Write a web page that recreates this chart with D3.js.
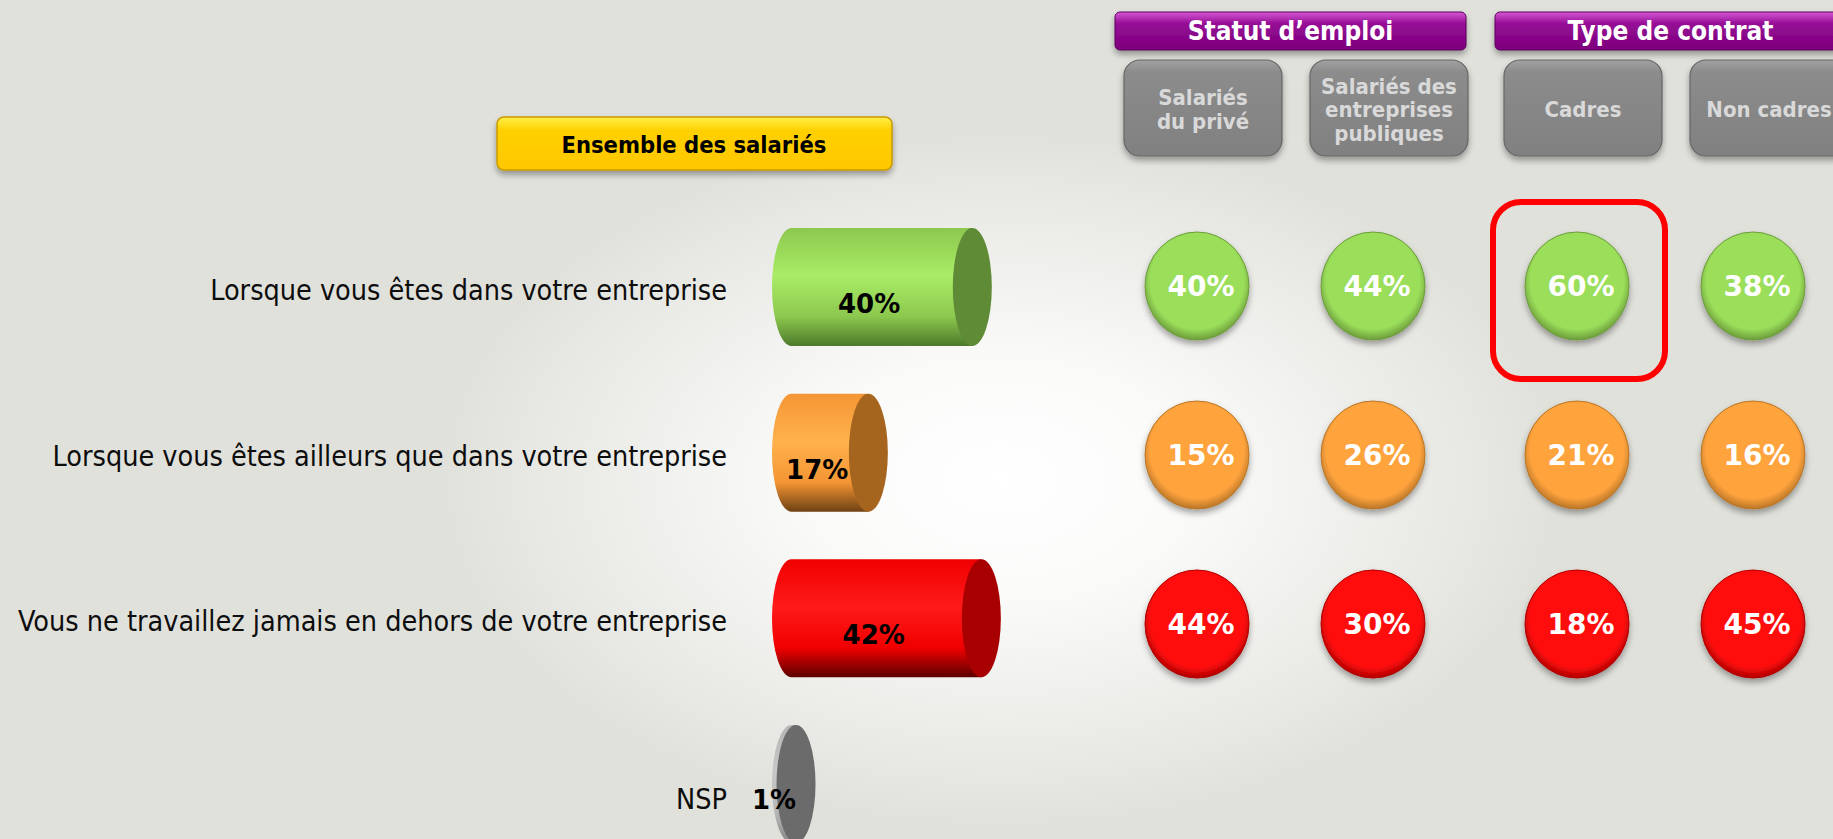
<!DOCTYPE html>
<html>
<head>
<meta charset="utf-8">
<script src="https://cdn.jsdelivr.net/npm/d3@7"></script>
<style>
  html, body { margin: 0; padding: 0; background: #e1e1dc; overflow: hidden; }
  svg { display: block; }
</style>
</head>
<body>
<div id="chart"></div>
<script>
// rows of the question
const rows = [
  "Lorsque vous êtes dans votre entreprise",
  "Lorsque vous êtes ailleurs que dans votre entreprise",
  "Vous ne travaillez jamais en dehors de votre entreprise",
  "NSP"
]
const ensemble = [40, 17, 42, 1]

// breakdown columns
const groups = ["Statut d’emploi", "Type de contrat"]
const columns = [
  ["Salariés", "du privé"],
  ["Salariés des", "entreprises", "publiques"],
  ["Cadres"],
  ["Non cadres"]
]
const columnGroup = [0, 0, 1, 1]
const prive = [40, 15, 44]
const publiques = [44, 26, 30]
const cadres = [60, 21, 18]
const nonCadres = [38, 16, 45]
const highlight = { col: 2, row: 0 }

const width = 1833, height = 839
const font = "'DejaVu Sans Condensed', 'DejaVu Sans', sans-serif"
const numFont = "'DejaVu Sans', sans-serif"
const palette = [
  { light: "#a9ec66", base: "#8cc84e", dark: "#4d7a2b", cap: "#5f8a36", rim: "#6d9c3c", ball: "#9ade5a" },
  { light: "#ffb24c", base: "#f49534", dark: "#6e4112", cap: "#a5651f", rim: "#b97628", ball: "#ffa33d" },
  { light: "#ff1a1a", base: "#f00000", dark: "#5c0000", cap: "#a80000", rim: "#b00000", ball: "#ff0d0d" },
  { light: "#c8c8c8", base: "#b5b5b5", dark: "#888888", cap: "#6b6b6b", rim: "#555555", ball: "#888888" }
]

const svg = d3.select("#chart").append("svg").attr("width", width).attr("height", height)
const defs = svg.append("defs")

// background glow
const bg = defs.append("radialGradient").attr("id", "bg")
  .attr("gradientUnits", "userSpaceOnUse")
  .attr("cx", 1000).attr("cy", 480).attr("r", 560)
  .attr("gradientTransform", "translate(1000,480) scale(1,0.62) translate(-1000,-480)")
bg.append("stop").attr("offset", "0%").attr("stop-color", "#ffffff")
bg.append("stop").attr("offset", "35%").attr("stop-color", "#fafaf9")
bg.append("stop").attr("offset", "100%").attr("stop-color", "#e1e1dc")
svg.append("rect").attr("width", width).attr("height", height).attr("fill", "url(#bg)")

const shadow = defs.append("filter").attr("id", "shadow")
  .attr("x", "-20%").attr("y", "-20%").attr("width", "140%").attr("height", "150%")
shadow.append("feDropShadow").attr("dx", 0).attr("dy", 4).attr("stdDeviation", 3)
  .attr("flood-color", "#000").attr("flood-opacity", 0.35)

palette.forEach(function(p, i) {
  const g = defs.append("linearGradient").attr("id", "body" + i)
    .attr("x1", 0).attr("y1", 0).attr("x2", 0).attr("y2", 1)
  g.append("stop").attr("offset", "0%").attr("stop-color", p.base)
  g.append("stop").attr("offset", "40%").attr("stop-color", p.light)
  g.append("stop").attr("offset", "75%").attr("stop-color", p.base)
  g.append("stop").attr("offset", "100%").attr("stop-color", p.dark)
  const r = defs.append("radialGradient").attr("id", "ball" + i)
    .attr("cx", "50%").attr("cy", "45%").attr("r", "55%")
  r.append("stop").attr("offset", "0%").attr("stop-color", p.ball)
  r.append("stop").attr("offset", "82%").attr("stop-color", p.ball)
  r.append("stop").attr("offset", "100%").attr("stop-color", p.rim)
})

const purple = defs.append("linearGradient").attr("id", "purple")
  .attr("x1", 0).attr("y1", 0).attr("x2", 0).attr("y2", 1)
purple.append("stop").attr("offset", "0%").attr("stop-color", "#d65ad6")
purple.append("stop").attr("offset", "30%").attr("stop-color", "#960c96")
purple.append("stop").attr("offset", "100%").attr("stop-color", "#7c007c")

const grey = defs.append("linearGradient").attr("id", "grey")
  .attr("x1", 0).attr("y1", 0).attr("x2", 0).attr("y2", 1)
grey.append("stop").attr("offset", "0%").attr("stop-color", "#a2a2a2")
grey.append("stop").attr("offset", "12%").attr("stop-color", "#8c8c8c")
grey.append("stop").attr("offset", "100%").attr("stop-color", "#808080")

const yellow = defs.append("linearGradient").attr("id", "yellow")
  .attr("x1", 0).attr("y1", 0).attr("x2", 0).attr("y2", 1)
yellow.append("stop").attr("offset", "0%").attr("stop-color", "#fff04a")
yellow.append("stop").attr("offset", "25%").attr("stop-color", "#ffd000")
yellow.append("stop").attr("offset", "100%").attr("stop-color", "#ffc800")

// scales
const y = d3.scalePoint().domain(rows).range([287, 784])
const yBall = d3.scalePoint().domain(rows.slice(0, 3)).range([286, 624])
const len = d3.scaleLinear().domain([0, 100]).range([0, 452])
const x0 = 791.5, rx = 19.5, ry = 59
const colX = function(i) { return d3.scalePoint().domain(d3.range(4)).range([1197, 1725])(i) + 28 * columnGroup[i] }
const boxX = function(i) { return d3.scalePoint().domain(d3.range(4)).range([1203, 1761])(i) + 8 * columnGroup[i] }

// "Ensemble des salariés" box
svg.append("rect").attr("x", 497).attr("y", 117).attr("width", 395).attr("height", 53)
  .attr("rx", 7).attr("fill", "url(#yellow)").attr("stroke", "#c99a00").attr("stroke-width", 1.5)
  .attr("filter", "url(#shadow)")
svg.append("text").attr("x", 694).attr("y", 153).attr("text-anchor", "middle")
  .attr("font-family", font).attr("font-weight", "bold").attr("font-size", 23.5)
  .attr("fill", "#000").text("Ensemble des salariés")

// row labels
svg.append("g").selectAll("text").data(rows).enter().append("text")
  .attr("x", 727).attr("y", function(d) { return y(d) + 13 + (d == "NSP" ? 12 : 0) })
  .attr("text-anchor", "end").attr("font-family", font).attr("font-size", 28.5)
  .attr("fill", "#0d0d0d").text(function(d) { return d })

// cylinders
const cyl = svg.append("g").selectAll("g").data(ensemble).enter().append("g")
cyl.append("path")
  .attr("fill", function(d, i) { return "url(#body" + i + ")" })
  .attr("d", function(d, i) {
    const cy = y(rows[i]), x1 = x0 + len(d)
    return "M" + x0 + "," + (cy - ry) + "L" + x1 + "," + (cy - ry) + "L" + x1 + "," + (cy + ry) +
      "L" + x0 + "," + (cy + ry) + "A" + rx + "," + ry + " 0 0 1 " + x0 + "," + (cy - ry) + "Z"
  })
cyl.append("ellipse")
  .attr("cx", function(d) { return x0 + len(d) })
  .attr("cy", function(d, i) { return y(rows[i]) })
  .attr("rx", rx).attr("ry", ry)
  .attr("fill", function(d, i) { return palette[i].cap })
cyl.append("text")
  .attr("x", function(d) { return (x0 - rx + x0 + len(d)) / 2 - 3 - (d < 5 ? 7 : 0) })
  .attr("y", function(d, i) { return y(rows[i]) + 26 - (d < 5 ? 1 : 0) })
  .attr("text-anchor", "middle").attr("font-family", numFont)
  .attr("font-weight", "bold").attr("font-size", 26).attr("fill", "#000")
  .text(function(d) { return d + "%" })

// group headers
groups.forEach(function(gname, gi) {
  const cols = d3.range(4).filter(function(i) { return columnGroup[i] == gi })
  const left = boxX(cols[0]) - 79 - 9
  const right = boxX(cols[cols.length - 1]) + 79 - 2
  svg.append("rect").attr("x", left).attr("y", 12).attr("width", right - left).attr("height", 38)
    .attr("rx", 5).attr("fill", "url(#purple)").attr("stroke", "#5e005e").attr("stroke-width", 1)
    .attr("filter", "url(#shadow)")
  svg.append("text").attr("x", (left + right) / 2).attr("y", 40).attr("text-anchor", "middle")
    .attr("font-family", font).attr("font-weight", "bold").attr("font-size", 26)
    .attr("fill", "#fff").text(gname)
})

// column header boxes
const heads = svg.append("g").selectAll("g").data(columns).enter().append("g")
heads.append("rect")
  .attr("x", function(d, i) { return boxX(i) - 79 }).attr("y", 60)
  .attr("width", 158).attr("height", 96).attr("rx", 16)
  .attr("fill", "url(#grey)").attr("stroke", "#666").attr("stroke-width", 1.2)
  .attr("filter", "url(#shadow)")
heads.each(function(lines, i) {
  d3.select(this).selectAll("text").data(lines).enter().append("text")
    .attr("x", boxX(i))
    .attr("y", function(d, k) { return 108 + (k - (lines.length - 1) / 2) * 23.5 + 9 })
    .attr("text-anchor", "middle").attr("font-family", font).attr("font-weight", "bold")
    .attr("font-size", 22).attr("fill", "#d9d9d9").text(function(d) { return d })
})

// bubbles
const series = [prive, publiques, cadres, nonCadres]
const cells = []
series.forEach(function(vals, c) {
  vals.forEach(function(v, r) { cells.push({ col: c, row: r, value: v }) })
})
const balls = svg.append("g").selectAll("g").data(cells).enter().append("g")
balls.append("ellipse")
  .attr("cx", function(d) { return colX(d.col) })
  .attr("cy", function(d) { return yBall(rows[d.row]) })
  .attr("rx", 52).attr("ry", 54)
  .attr("fill", function(d) { return "url(#ball" + d.row + ")" })
  .attr("stroke", function(d) { return palette[d.row].rim }).attr("stroke-width", 1)
  .attr("filter", "url(#shadow)")
balls.append("text")
  .attr("x", function(d) { return colX(d.col) + 4 })
  .attr("y", function(d) { return yBall(rows[d.row]) + 10 })
  .attr("text-anchor", "middle").attr("font-family", numFont)
  .attr("font-weight", "bold").attr("font-size", 28).attr("fill", "#fff")
  .text(function(d) { return d.value + "%" })

// highlighted cell
svg.append("rect")
  .attr("x", colX(highlight.col) - 84).attr("y", yBall(rows[highlight.row]) - 84)
  .attr("width", 172).attr("height", 177).attr("rx", 28)
  .attr("fill", "none").attr("stroke", "#ff0000").attr("stroke-width", 6)
</script>
</body>
</html>
